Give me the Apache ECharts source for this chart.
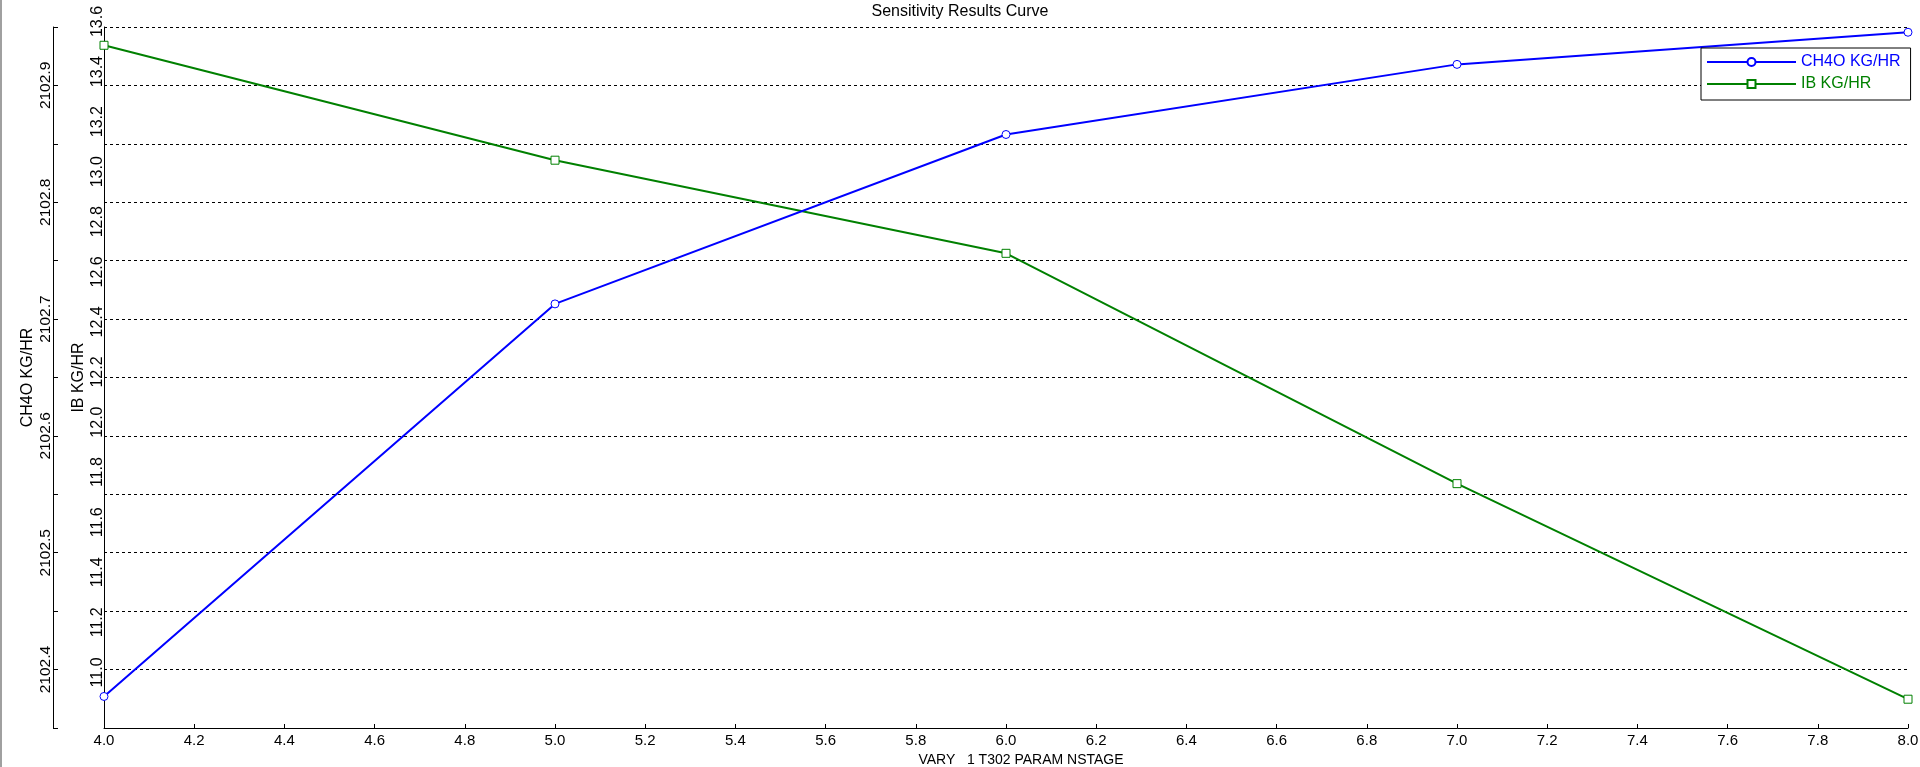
<!DOCTYPE html>
<html>
<head>
<meta charset="utf-8">
<script src="https://cdn.jsdelivr.net/npm/echarts@6/dist/echarts.min.js"></script>
<style>
html,body{margin:0;padding:0;background:#fff;}
#chart{width:1920px;height:767px;}
</style>
</head>
<body>
<div id="chart"></div>
<script>
// ---- data ----
var stages = [4.0, 5.0, 6.0, 7.0, 8.0];
var ch4oValues = [2102.377, 2102.713, 2102.858, 2102.918, 2102.9455];
var ibValues = [13.527, 13.068, 12.696, 11.776, 10.915];
var seriesNames = ['CH4O KG/HR', 'IB KG/HR'];
var titleText = 'Sensitivity Results Curve';
var xAxisName = 'VARY   1 T302 PARAM NSTAGE';

var BLUE = '#0000FF', GREEN = '#008000';
var SANS = '"Liberation Sans",Arial,sans-serif';

function pairs(xs, ys){ return xs.map(function(x,i){ return [x, ys[i]]; }); }

var chart = echarts.init(document.getElementById('chart'), null, {renderer:'canvas'});
chart.setOption({
  animation: false,
  backgroundColor: '#fff',
  title: {
    text: titleText, left: 'center', top: 4, padding: 0,
    textStyle: {fontFamily: SANS, fontSize: 16, fontWeight: 'normal', color: '#000'}
  },
  grid: {left: 104, right: 12, top: 27, bottom: 39, containLabel: false, outerBoundsMode: 'none'},
  legend: {
    orient: 'vertical', left: 1701, top: 48,
    padding: [6, 10, 8, 5], itemGap: 6,
    itemWidth: 89, itemHeight: 10,
    backgroundColor: '#fff', borderColor: '#000', borderWidth: 1, borderRadius: 0,
    textStyle: {fontFamily: SANS, fontSize: 16, lineHeight: 16},
    data: [
      {name: seriesNames[0], textStyle: {color: BLUE}},
      {name: seriesNames[1], textStyle: {color: GREEN}}
    ]
  },
  graphic: [{type: 'rect', shape: {x: 0, y: 0, width: 2, height: 767}, style: {fill: '#a0a0a0'}, silent: true}],
  xAxis: {
    type: 'value', min: 4, max: 8, interval: 0.2,
    name: xAxisName, nameLocation: 'middle', nameGap: 24,
    nameTextStyle: {fontFamily: SANS, fontSize: 14, color: '#000', padding: [0, 0, 0, 30]},
    axisLine: {show: true, onZero: false, lineStyle: {color: '#000', width: 1}},
    axisTick: {show: true, inside: true, length: 4, lineStyle: {color: '#000'}},
    axisLabel: {margin: 5, fontFamily: SANS, fontSize: 15, color: '#000',
      formatter: function(v){ return v.toFixed(1); }},
    splitLine: {show: false}
  },
  yAxis: [
    {
      type: 'value', position: 'left', offset: 0,
      min: 10.8, max: 13.6, interval: 0.2,
      name: seriesNames[1], nameLocation: 'middle', nameGap: 17, nameMoveOverlap: false,
      nameTextStyle: {fontFamily: SANS, fontSize: 16, color: '#000'},
      axisLine: {show: true, lineStyle: {color: '#000', width: 1}},
      axisTick: {show: false},
      axisLabel: {rotate: 90, margin: -2, showMinLabel: false, fontFamily: SANS, fontSize: 16, color: '#000',
        padding: [0, 0, 0, 11],
        formatter: function(v){ return v.toFixed(1); }},
      splitLine: {show: false}
    },
    {
      type: 'value', position: 'left', offset: 51,
      min: 2102.35, max: 2102.95, interval: 0.05,
      name: seriesNames[0], nameLocation: 'middle', nameGap: 17, nameMoveOverlap: false,
      nameTextStyle: {fontFamily: SANS, fontSize: 16, color: '#000'},
      axisLine: {show: true, lineStyle: {color: '#000', width: 1}},
      axisTick: {show: true, inside: true, length: 5, lineStyle: {color: '#000'}},
      axisLabel: {rotate: 90, margin: -1, fontFamily: SANS, fontSize: 15.5, color: '#000',
        showMinLabel: true, showMaxLabel: true,
        formatter: function(v){
          var t = v * 10;
          return Math.abs(t - Math.round(t)) < 1e-4 ? v.toFixed(1) : '';
        }},
      splitLine: {show: true, lineStyle: {color: '#000', width: 1, type: [3, 3]}}
    }
  ],
  series: [
    {
      name: seriesNames[0], type: 'line', xAxisIndex: 0, yAxisIndex: 1,
      data: pairs(stages, ch4oValues),
      color: BLUE,
      symbol: 'circle', symbolSize: 8, showSymbol: true,
      lineStyle: {color: BLUE, width: 2},
      itemStyle: {color: '#fff', borderColor: BLUE, borderWidth: 1},
      emphasis: {disabled: true}, z: 3
    },
    {
      name: seriesNames[1], type: 'line', xAxisIndex: 0, yAxisIndex: 0,
      data: pairs(stages, ibValues),
      color: GREEN,
      symbol: 'rect', symbolSize: 8, showSymbol: true,
      lineStyle: {color: GREEN, width: 2},
      itemStyle: {color: '#fff', borderColor: GREEN, borderWidth: 1},
      emphasis: {disabled: true}, z: 2
    }
  ]
});
</script>
</body>
</html>
